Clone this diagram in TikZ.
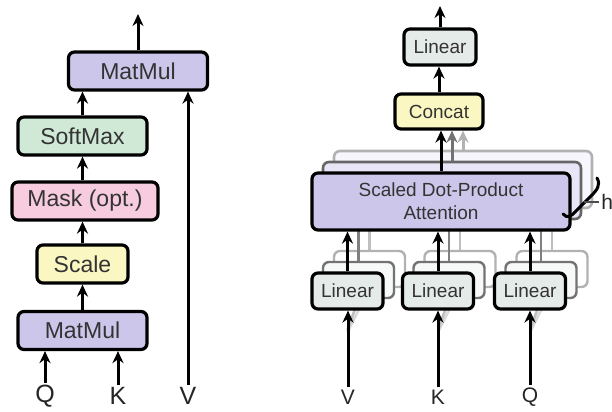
\documentclass[tikz,border=0pt]{standalone}
\usepackage{fontspec}
\setmainfont{Liberation Sans}
\usetikzlibrary{shapes,arrows,arrows.meta}

\definecolor{attnPurple}{RGB}{204,198,234}
\definecolor{softGreen}{RGB}{208,233,214}
\definecolor{maskPink}{RGB}{246,204,222}
\definecolor{scaleYellow}{RGB}{251,247,194}
\definecolor{linearGrey}{RGB}{229,235,233}

\tikzstyle{block} = [rectangle, rounded corners=3pt, draw=black, line width=1.6pt, inner sep=0pt, text=black!80, align=center]
\tikzstyle{leftblock} = [block, minimum height=19pt, font=\fontsize{11.5}{13}\selectfont]
\tikzstyle{rightblock} = [block, minimum height=18pt, font=\fontsize{9.5}{11.5}\selectfont]
\tikzstyle{matmul} = [leftblock, fill=attnPurple]
\tikzstyle{linear} = [rightblock, minimum width=35.5pt, fill=linearGrey]
\tikzstyle{linearback} = [linear, fill=white!70!linearGrey, draw=black!55, line width=1.2pt]
\tikzstyle{linearfar} = [linear, fill=white, draw=black!30, line width=1.2pt]
\tikzstyle{attnback} = [rightblock, minimum width=129pt, minimum height=28.5pt, fill=white!55!attnPurple, draw=black!60, line width=1.3pt]
\tikzstyle{attnfar} = [attnback, fill=white!85!attnPurple, draw=black!30]
\tikzstyle{inlabel} = [inner sep=1pt, text=black!85, font=\fontsize{12.5}{14}\selectfont]
\tikzstyle{arrow} = [line width=1.5pt, ->, >={Stealth[length=6pt,width=5.5pt]}]
\tikzstyle{greyarrow} = [arrow, draw=black!55]
\tikzstyle{shade} = [line width=1.3pt, draw=black!25]

\begin{document}
\begin{tikzpicture}[x=0.5pt, y=-0.5pt]
\useasboundingbox (0,0) rectangle (612,412);

% scaled dot-product attention
\node (matmulTop) [matmul, minimum width=69.5pt] at (138,71) {MatMul};
\node (softmax) [leftblock, minimum width=64.5pt, fill=softGreen] at (82.5,136) {SoftMax};
\node (mask) [leftblock, minimum width=73pt, fill=maskPink] at (85,201) {Mask (opt.)};
\node (scale) [leftblock, minimum width=45.5pt, fill=scaleYellow] at (82.5,264) {Scale};
\node (matmulLow) [matmul, minimum width=64.5pt] at (82.5,330.5) {MatMul};

\node (qLeft) [inlabel] at (45,396) {Q};
\node (kLeft) [inlabel] at (118,396) {K};
\node (vLeft) [inlabel] at (188,396) {V};
\coordinate (outLeft) at (138,14);

\draw [arrow] (qLeft.north) -- (qLeft.north |- matmulLow.south);
\draw [arrow] (kLeft.north) -- (kLeft.north |- matmulLow.south);
\draw [arrow] (vLeft.north) -- (vLeft.north |- matmulTop.south);
\draw [arrow] (matmulLow.north) -- (matmulLow.north |- scale.south);
\draw [arrow] (scale.north) -- (scale.north |- mask.south);
\draw [arrow] (scale.north |- mask.north) -- (scale.north |- softmax.south);
\draw [arrow] (softmax.north) -- (softmax.north |- matmulTop.south);
\draw [arrow] (matmulTop.north) -- (outLeft);

% multi-head attention, stacked copies first
\node (attnC) [attnfar] at (463,179.5) {};
\node (attnB) [attnback] at (452,190.5) {};

\foreach \name/\cx in {V/347.5, K/438, Q/530} {
  \node (lin\name C) [linearfar] at (\cx+22,269) {};
  \node (lin\name B) [linearback] at (\cx+11,280) {};
}

\foreach \name in {V, K, Q} {
  \draw [shade, draw=black!25] (lin\name C.north) -- (lin\name C.north |- attnC.south);
  \draw [shade, draw=black!50] (lin\name B.north) -- (lin\name B.north |- attnB.south);
  % faint feeds into the hidden heads
  \draw [shade, draw=black!15] (lin\name C.south) ++(-22,44) -- (lin\name C.south);
  \draw [shade] (lin\name B.south) ++(-11,31) -- (lin\name B.south);
}

\node (linV) [linear] at (347.5,291) {Linear};
\node (linK) [linear] at (438,291) {Linear};
\node (linQ) [linear] at (530,291) {Linear};

\node (attn) [rightblock, minimum width=129pt, minimum height=28.5pt, fill=attnPurple] at (441,201.5) {Scaled Dot-Product\\Attention};
\node (concat) [rightblock, minimum width=44pt, minimum height=17.5pt, fill=scaleYellow] at (439,111.5) {Concat};
\node (linTop) [linear, minimum width=36pt] at (440,47) {Linear};
\coordinate (outRight) at (440,6);

\node (vRight) [inlabel, font=\fontsize{10.5}{12}\selectfont] at (348,397) {V};
\node (kRight) [inlabel, font=\fontsize{10.5}{12}\selectfont] at (438,397) {K};
\node (qRight) [inlabel, font=\fontsize{10.5}{12}\selectfont] at (530,397) {Q};

\draw [arrow] (vRight.north) -- (vRight.north |- linV.south);
\draw [arrow] (kRight.north) -- (kRight.north |- linK.south);
\draw [arrow] (qRight.north) -- (qRight.north |- linQ.south);
\draw [arrow] (linV.north) -- (linV.north |- attn.south);
\draw [arrow] (linK.north) -- (linK.north |- attn.south);
\draw [arrow] (linQ.north) -- (linQ.north |- attn.south);

\draw [greyarrow, draw=black!30] (attnC.north) -- (attnC.north |- concat.south);
\draw [greyarrow] (attnB.north) -- (attnB.north |- concat.south);
\draw [arrow] (attn.north) -- (attn.north |- concat.south);
\draw [arrow] (concat.north) -- (concat.north |- linTop.south);
\draw [arrow] (linTop.north) -- (outRight);

% brace over the heads
\draw [line width=1.5pt, line cap=round] (597,178) .. controls (601,185) and (597,190) .. (591,196)
  -- (576,211) .. controls (572,216) and (567,219) .. (563,214);
\node (heads) [anchor=west, inner sep=1pt, text=black!85, font=\fontsize{10.5}{12}\selectfont] at (599,202) {h};
\draw [line width=0.8pt, draw=black!70] (584,202) -- (heads.west);

\end{tikzpicture}
\end{document}
